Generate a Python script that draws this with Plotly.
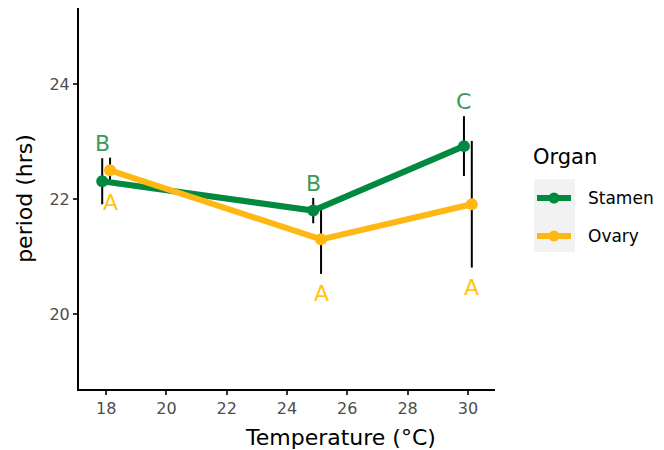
import plotly.graph_objects as go

# ---- data ----
temps = [18, 25, 30]
organs = ["Stamen", "Ovary"]
stamen_period = [22.31, 21.80, 22.92]
stamen_err = [0.40, 0.22, 0.52]
stamen_letters = ["B", "B", "C"]
ovary_period = [22.50, 21.30, 21.91]
ovary_err = [0.22, 0.60, 1.10]
ovary_letters = ["A", "A", "A"]
x_ticks = [18, 20, 22, 24, 26, 28, 30]
y_ticks = [20, 22, 24]

GREEN = "#00893F"
YELLOW = "#FFB714"
GREEN_TXT = "#3B9A58"
YELLOW_TXT = "#FFC414"
FONT = "DejaVu Sans, Liberation Sans, Arial, sans-serif"
dodge = 0.13

# page body has an 8px margin, so the figure is drawn 8px in from the corner
OFF = 8
W, H = 664 - OFF, 450 - OFF
L, R, T, B = 79, 495, 8, 389  # plot area in screen pixels


def px(xp):
    return (xp - L) / (R - L)


def py(yp):
    return (B - yp) / (B - T)


fig = go.Figure()

series = [
    (stamen_period, stamen_err, GREEN, -dodge),
    (ovary_period, ovary_err, YELLOW, dodge),
]
# error bars first (under lines)
for vals, errs, col, dx in series:
    xs = [t + dx for t in temps]
    for x, v, e in zip(xs, vals, errs):
        fig.add_trace(go.Scatter(x=[x, x], y=[v - e, v + e], mode="lines",
                                 line=dict(color="black", width=2),
                                 showlegend=False, hoverinfo="skip"))
for (vals, errs, col, dx), name in zip(series, organs):
    xs = [t + dx for t in temps]
    fig.add_trace(go.Scatter(x=xs, y=vals, mode="lines+markers", name=name,
                             line=dict(color=col, width=6),
                             marker=dict(color=col, size=12),
                             showlegend=False))

annotations = []
for t, v, e, lab in zip(temps, stamen_period, stamen_err, stamen_letters):
    annotations.append(dict(x=t - dodge, y=v + e, text=lab, showarrow=False,
                            yanchor="bottom", yshift=0,
                            font=dict(family=FONT, size=22, color=GREEN_TXT)))
for t, v, e, lab in zip(temps, ovary_period, ovary_err, ovary_letters):
    annotations.append(dict(x=t + dodge, y=v - e, text=lab, showarrow=False,
                            yanchor="top", yshift=-5,
                            font=dict(family=FONT, size=22, color=YELLOW_TXT)))

# x axis title (sits right of the plot centre in the original)
annotations.append(dict(xref="paper", yref="paper", x=px(340), y=py(437),
                        text="Temperature (°C)", showarrow=False,
                        xanchor="center", yanchor="middle",
                        font=dict(family=FONT, size=22, color="black")))

# manual legend
annotations.append(dict(xref="paper", yref="paper", x=px(531), y=py(157),
                        text="Organ", showarrow=False, xanchor="left",
                        yanchor="middle",
                        font=dict(family=FONT, size=21, color="black")))
shapes = [dict(type="rect", xref="paper", yref="paper",
               x0=px(534), x1=px(575), y0=py(252), y1=py(179),
               fillcolor="#F2F2F2", line=dict(width=0), layer="below")]
for name, col, ypx in [(organs[0], GREEN, 198), (organs[1], YELLOW, 236)]:
    shapes.append(dict(type="line", xref="paper", yref="paper",
                       x0=px(537), x1=px(571), y0=py(ypx), y1=py(ypx),
                       line=dict(color=col, width=6)))
    shapes.append(dict(type="circle", xref="paper", yref="paper",
                       x0=px(548.5), x1=px(559.5), y0=py(ypx + 5.5),
                       y1=py(ypx - 5.5), fillcolor=col, line=dict(width=0)))
    annotations.append(dict(xref="paper", yref="paper", x=px(586), y=py(ypx),
                            text=name, showarrow=False, xanchor="left",
                            yanchor="middle",
                            font=dict(family=FONT, size=17, color="black")))

fig.update_layout(
    width=W, height=H,
    margin=dict(l=L - OFF, r=W + OFF - R, t=T - OFF, b=H + OFF - B),
    paper_bgcolor="white", plot_bgcolor="white",
    font=dict(family=FONT),
    annotations=annotations, shapes=shapes,
    showlegend=False,
)
fig.update_xaxes(range=[17.1, 30.9], tickvals=x_ticks,
                 showline=True, linecolor="black", linewidth=2,
                 ticks="outside", ticklen=4, tickwidth=1.5, tickcolor="#333333",
                 showgrid=False, zeroline=False,
                 tickfont=dict(family=FONT, size=16, color="#4D4D4D"))
fig.update_yaxes(range=[18.70, 25.32], tickvals=y_ticks,
                 showline=True, linecolor="black", linewidth=2,
                 ticks="outside", ticklen=4, tickwidth=1.5, tickcolor="#333333",
                 showgrid=False, zeroline=False,
                 tickfont=dict(family=FONT, size=16, color="#4D4D4D"),
                 title=dict(text="period (hrs)", standoff=11,
                            font=dict(family=FONT, size=22, color="black")))

fig.write_html("out.html")
